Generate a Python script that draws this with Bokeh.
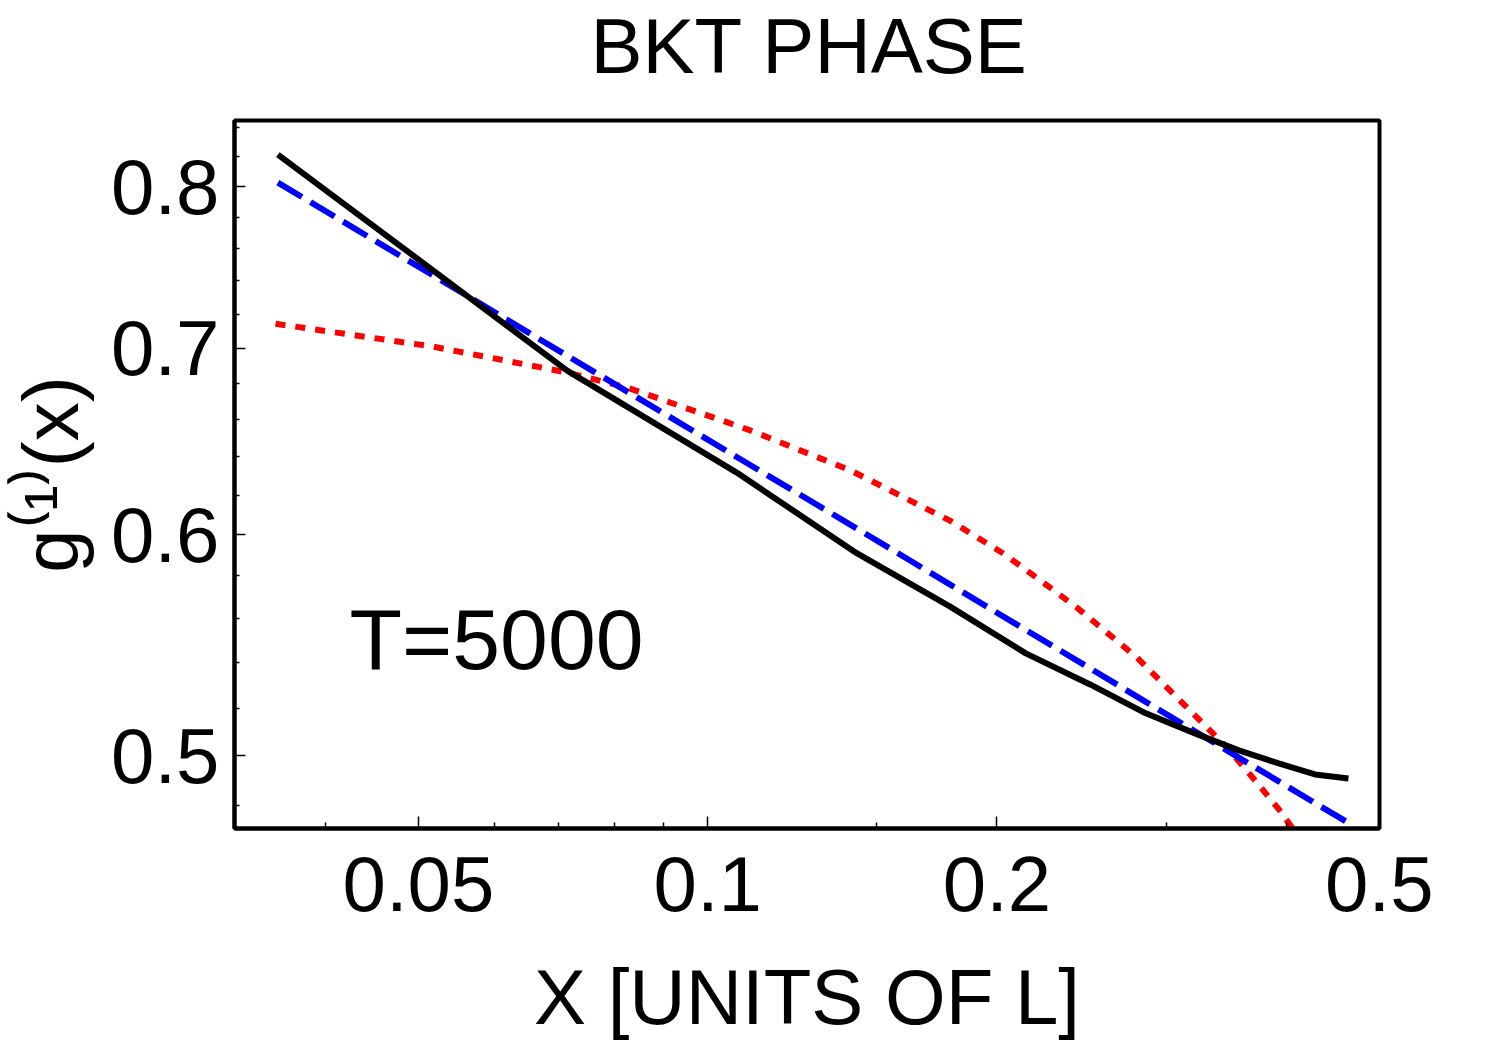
from bokeh.plotting import figure
from bokeh.layouts import column
from bokeh.models import Range1d, FixedTicker, CustomJSTickFormatter, Label
from bokeh.embed import file_html
from bokeh.resources import INLINE

# ---- data (log-log axes) ----
x_pts = [0.0357, 0.0714, 0.1071, 0.1429, 0.1786, 0.2143, 0.25, 0.2857,
         0.3214, 0.3571, 0.3929, 0.4286, 0.4643]
black_y = [0.8214, 0.6872, 0.6318, 0.5910, 0.5656, 0.5441, 0.5303, 0.5178,
           0.5093, 0.5022, 0.4968, 0.4923, 0.4907]
blue_y = [0.8026, 0.6957, 0.6400, 0.6032, 0.5760, 0.5547, 0.5374, 0.5227,
          0.5102, 0.4992, 0.4895, 0.4808, 0.4730]
red_x = [0.0355, 0.0518, 0.0714, 0.0825, 0.1107, 0.1407, 0.1787, 0.2029,
         0.2218, 0.2423, 0.2603, 0.2797, 0.3005, 0.3229, 0.3470, 0.3692,
         0.3938, 0.4131]
red_y = [0.7143, 0.7009, 0.6861, 0.6776, 0.6541, 0.6329, 0.6071, 0.5910,
         0.5779, 0.5650, 0.5535, 0.5422, 0.5290, 0.5161, 0.5034, 0.4910,
         0.4779, 0.4670]

x_major = [0.05, 0.1, 0.2, 0.5]
x_minor = [0.04, 0.06, 0.07, 0.08, 0.09, 0.15, 0.3, 0.4]
y_major = [0.5, 0.6, 0.7, 0.8]
y_minor = [0.48, 0.52, 0.54, 0.56, 0.58, 0.62, 0.64, 0.66, 0.68,
           0.72, 0.74, 0.76, 0.78, 0.82, 0.84]

title_text = "BKT PHASE"
x_label = "X [UNITS OF L]"
y_label = "g\u207d\u00b9\u207e(x)"
annotation = "T=5000"

FONT = "Liberation Sans"
MID = 0.3465  # box middle above the alphabetic baseline, in em
FS = 78

TOP_H = 92
TOTAL_W = 1492
FRAME_LEFT = 234   # page x of the plot frame's left edge
FRAME_TOP = 120    # page y of the plot frame's top edge
FRAME_W = 1145
FRAME_H = 708
TITLE_X = 749      # centre of the title inside the (centred) title strip

# ---- title strip ----
top = figure(width=TOTAL_W, height=TOP_H, x_range=Range1d(0, TOTAL_W),
             y_range=Range1d(TOP_H, 0), x_axis_location=None,
             y_axis_location=None, min_border=0,
             output_backend="svg", toolbar_location=None)
top.grid.visible = False
top.outline_line_color = None
top.background_fill_color = "white"
top.border_fill_color = "white"
top.add_layout(Label(x=TITLE_X, y=72.7 - MID * FS,
                     text=title_text, text_font=FONT,
                     text_font_size=f"{FS}px", text_color="black",
                     text_align="center", text_baseline="middle"))

# ---- main plot ----
p = figure(
    x_axis_type="log", y_axis_type="log",
    x_range=Range1d(0.032174, 0.5002), y_range=Range1d(0.47082, 0.84483),
    frame_width=FRAME_W, frame_height=FRAME_H,
    min_border_left=FRAME_LEFT,
    min_border_right=TOTAL_W - FRAME_LEFT - FRAME_W,
    min_border_top=FRAME_TOP - TOP_H, min_border_bottom=150,
    output_backend="svg", toolbar_location=None,
)
p.background_fill_color = "white"
p.border_fill_color = "white"
p.grid.visible = False
p.outline_line_color = "black"
p.outline_line_width = 4

fmt = CustomJSTickFormatter(code="return tick.toString();")

xa = p.xaxis[0]
xa.ticker = FixedTicker(ticks=x_major, minor_ticks=x_minor)
xa.formatter = fmt
xa.axis_label = x_label
xa.axis_label_text_font = FONT
xa.axis_label_text_font_size = f"{FS}px"
xa.axis_label_text_font_style = "normal"
xa.axis_label_text_color = "black"
xa.axis_label_standoff = 39
xa.major_label_text_font = FONT
xa.major_label_text_font_size = f"{FS}px"
xa.major_label_text_color = "black"
xa.major_label_standoff = 28
xa.axis_line_width = 4
xa.major_tick_in = 12
xa.major_tick_out = 0
xa.minor_tick_in = 6
xa.minor_tick_out = 0
xa.major_tick_line_width = 1.5
xa.minor_tick_line_width = 1.5

ya = p.yaxis[0]
ya.ticker = FixedTicker(ticks=y_major, minor_ticks=y_minor)
ya.formatter = fmt
ya.axis_label = y_label
ya.axis_label_text_font = FONT
ya.axis_label_text_font_size = f"{FS}px"
ya.axis_label_text_font_style = "normal"
ya.axis_label_text_color = "black"
ya.axis_label_standoff = 13
ya.major_label_text_font = FONT
ya.major_label_text_font_size = f"{FS}px"
ya.major_label_text_color = "black"
ya.major_label_standoff = 15
ya.major_label_orientation = "horizontal"
ya.axis_line_width = 4
ya.major_tick_in = 11
ya.major_tick_out = 0
ya.minor_tick_in = 5
ya.minor_tick_out = 0
ya.major_tick_line_width = 1.5
ya.minor_tick_line_width = 1.5

# curves
p.line(red_x, red_y, line_color="#FF0000", line_width=6, line_dash="10 10")
p.line(x_pts, blue_y, line_color="#0000FF", line_width=6, line_dash="28 10")
p.line(x_pts, black_y, line_color="black", line_width=6, line_join="round")

# text inside the plot (baseline 160 px above the frame bottom)
p.add_layout(Label(x=115, y=160 + MID * 86, x_units="screen", y_units="screen",
                   text=annotation, text_font=FONT, text_font_size="86px",
                   text_color="black",
                   text_baseline="middle", text_align="left"))

layout = column(top, p)
open("out.html", "w").write(file_html(layout, INLINE))
